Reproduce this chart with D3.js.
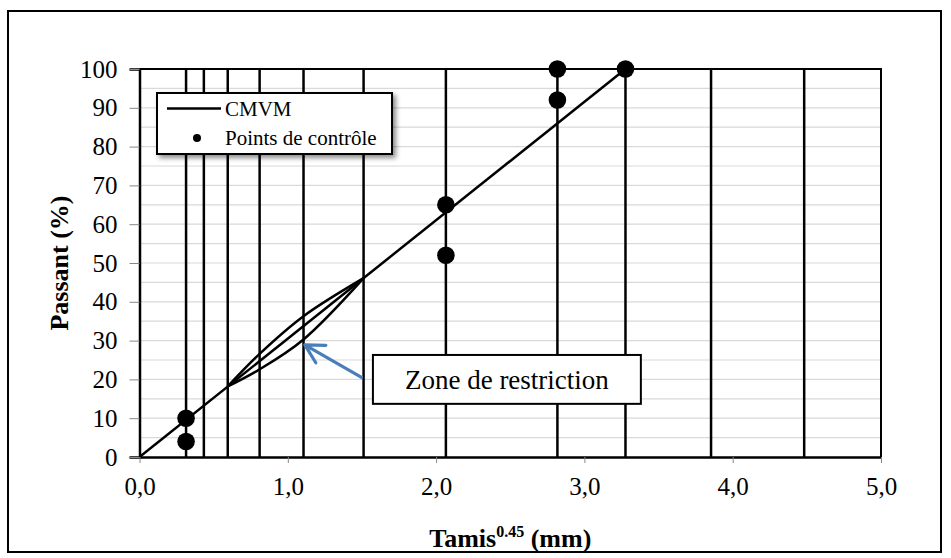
<!DOCTYPE html>
<html>
<head>
<meta charset="utf-8">
<script src="https://cdn.jsdelivr.net/npm/d3@7"></script>
<style>
  html, body { margin: 0; padding: 0; background: #fff; }
  svg { display: block; }
  text { font-family: "Liberation Serif", "Times New Roman", serif; fill: #000; }
</style>
</head>
<body>
<svg id="chart" width="951" height="558"></svg>
<script>
// Sieve openings raised to the 0.45 power (vertical reference lines)
const sieveX = [0.314, 0.434, 0.595, 0.810, 1.106, 1.511, 2.066, 2.818, 3.277, 3.854, 4.482];

// Maximum density line (CMVM)
const cmvmX = [0, 3.277];
const cmvmY = [0, 100];

// Control points
const controlX = [0.314, 0.314, 2.066, 2.066, 2.818, 2.818, 3.277];
const controlY = [4, 10, 52, 65, 92, 100, 100];

// Restricted zone boundaries
const zoneX = [0.595, 0.810, 1.106, 1.511];
const zoneUpper = [18.2, 26.6, 36.3, 46.1];
const zoneLower = [18.2, 22.6, 30.3, 46.1];

// Axis ticks
const xTicks = [0, 1, 2, 3, 4, 5];
const yTicks = [0, 10, 20, 30, 40, 50, 60, 70, 80, 90, 100];
const yGrid = d3.range(5, 100, 5);

// Annotation anchors (data coordinates)
const arrowTail = [1.497, 20.5];
const arrowTip = [1.115, 28.9];
const noteAt = [1.574, 26.3, 13.7];
const noteText = "Zone de restriction";

const svg = d3.select("#chart");
const W = 951, H = 558;

const x = d3.scaleLinear().domain([0, 5]).range([139.5, 881]);
const y = d3.scaleLinear().domain([0, 100]).range([457, 69]);

// Outer chart frame
svg.append("rect")
  .attr("x", 8).attr("y", 11).attr("width", 933).attr("height", 541)
  .attr("fill", "#fff").attr("stroke", "#000").attr("stroke-width", 2);

// Drop shadow for the legend
const defs = svg.append("defs");
const f = defs.append("filter").attr("id", "shadow")
  .attr("x", "-10%").attr("y", "-20%").attr("width", "130%").attr("height", "160%");
f.append("feDropShadow").attr("dx", 3).attr("dy", 3).attr("stdDeviation", 2.5)
  .attr("flood-color", "#000").attr("flood-opacity", 0.45);

// Horizontal gridlines
svg.append("g").selectAll("line").data(yGrid).join("line")
  .attr("x1", x(0)).attr("x2", x(5))
  .attr("y1", d => y(d)).attr("y2", d => y(d))
  .attr("stroke", "#d9d9d9").attr("stroke-width", 1.2);

// Sieve lines
svg.append("g").selectAll("line").data(sieveX).join("line")
  .attr("x1", d => x(d)).attr("x2", d => x(d))
  .attr("y1", y(0)).attr("y2", y(100))
  .attr("stroke", "#000").attr("stroke-width", 2.5);

// Restricted zone (smoothed boundaries)
const zoneLine = d3.line().x(d => x(d[0])).y(d => y(d[1])).curve(d3.curveCatmullRom.alpha(0.5));
[zoneUpper, zoneLower].forEach(vals => {
  svg.append("path")
    .attr("d", zoneLine(zoneX.map((v, i) => [v, vals[i]])))
    .attr("fill", "none").attr("stroke", "#000").attr("stroke-width", 2.5);
});

// Maximum density line
svg.append("path")
  .attr("d", d3.line().x(d => x(d[0])).y(d => y(d[1]))(cmvmX.map((v, i) => [v, cmvmY[i]])))
  .attr("fill", "none").attr("stroke", "#000").attr("stroke-width", 2.5);

// Plot-area border (top and right)
svg.append("path")
  .attr("d", `M${x(0)},${y(100)}H${x(5)}V${y(0)}`)
  .attr("fill", "none").attr("stroke", "#000").attr("stroke-width", 2);

// Y axis
const yAxis = svg.append("g").attr("transform", `translate(${x(0)},0)`)
  .call(d3.axisLeft(y).tickValues(yTicks).tickSize(10).tickPadding(12).tickFormat(d3.format("d")));
yAxis.select(".domain").attr("stroke", "#000").attr("stroke-width", 2.5);
yAxis.selectAll(".tick line").attr("stroke", "#888").attr("stroke-width", 1);
yAxis.selectAll(".tick text").attr("font-size", 25)
  .style("font-family", "'Liberation Serif', 'Times New Roman', serif").attr("fill", "#000");

// X axis
const commaFmt = d => d3.format(".1f")(d).replace(".", ",");
const xAxis = svg.append("g").attr("transform", `translate(0,${y(0)})`)
  .call(d3.axisBottom(x).tickValues(xTicks).tickSize(6).tickSizeOuter(0).tickPadding(14).tickFormat(commaFmt));
xAxis.select(".domain").attr("stroke", "#000").attr("stroke-width", 2.5);
xAxis.selectAll(".tick line").attr("stroke", "#888").attr("stroke-width", 1);
xAxis.selectAll(".tick text").attr("font-size", 25)
  .style("font-family", "'Liberation Serif', 'Times New Roman', serif").attr("fill", "#000");

// Control points
svg.append("g").selectAll("circle").data(controlX.map((v, i) => [v, controlY[i]])).join("circle")
  .attr("cx", d => x(d[0])).attr("cy", d => y(d[1])).attr("r", 8.8).attr("fill", "#000");

// Axis titles
svg.append("text")
  .attr("transform", `translate(68,${(y(0) + y(100)) / 2}) rotate(-90)`)
  .attr("text-anchor", "middle").attr("font-size", 26).attr("font-weight", "bold")
  .text("Passant (%)");

const xt = svg.append("text")
  .attr("x", (x(0) + x(5)) / 2).attr("y", 547)
  .attr("text-anchor", "middle").attr("font-size", 26).attr("font-weight", "bold");
xt.append("tspan").text("Tamis");
xt.append("tspan").attr("font-size", 16).attr("dy", -10).text("0.45");
xt.append("tspan").attr("dy", 10).text(" (mm)");

// Legend
const lg = svg.append("g");
lg.append("rect")
  .attr("x", 157).attr("y", 93).attr("width", 235).attr("height", 61)
  .attr("fill", "#fff").attr("stroke", "#000").attr("stroke-width", 2)
  .attr("filter", "url(#shadow)");
lg.append("line").attr("x1", 167).attr("x2", 221).attr("y1", 108.5).attr("y2", 108.5)
  .attr("stroke", "#000").attr("stroke-width", 2.5);
lg.append("text").attr("x", 225).attr("y", 115.5).attr("font-size", 21).text("CMVM");
lg.append("circle").attr("cx", 197).attr("cy", 138).attr("r", 4).attr("fill", "#000");
lg.append("text").attr("x", 225).attr("y", 145).attr("font-size", 21).text("Points de contrôle");

// Annotation box
const note = svg.append("g");
const nx = x(noteAt[0]), ny1 = y(noteAt[1]), ny2 = y(noteAt[2]);
const noteRect = note.append("rect").attr("fill", "#fff").attr("stroke", "#000").attr("stroke-width", 2);
const nt = note.append("text").attr("x", nx + 32).attr("y", (ny1 + ny2) / 2 + 9.5)
  .attr("font-size", 27).text(noteText);
const tw = nt.node().getComputedTextLength();
noteRect.attr("x", nx).attr("y", ny1).attr("width", tw + 64).attr("height", ny2 - ny1);

// Arrow pointing into the restricted zone
const tx = x(arrowTail[0]), ty = y(arrowTail[1]);
const hx = x(arrowTip[0]), hy = y(arrowTip[1]);
const ang = Math.atan2(ty - hy, tx - hx);
const barb = 21, spread = 0.5;
svg.append("path")
  .attr("d", `M${tx},${ty}L${hx},${hy}` +
    `M${hx + barb * Math.cos(ang - spread)},${hy + barb * Math.sin(ang - spread)}L${hx},${hy}` +
    `L${hx + barb * Math.cos(ang + spread)},${hy + barb * Math.sin(ang + spread)}`)
  .attr("fill", "none").attr("stroke", "#4a7ebb").attr("stroke-width", 3.2)
  .attr("stroke-linecap", "round").attr("stroke-linejoin", "round");
</script>
</body>
</html>
